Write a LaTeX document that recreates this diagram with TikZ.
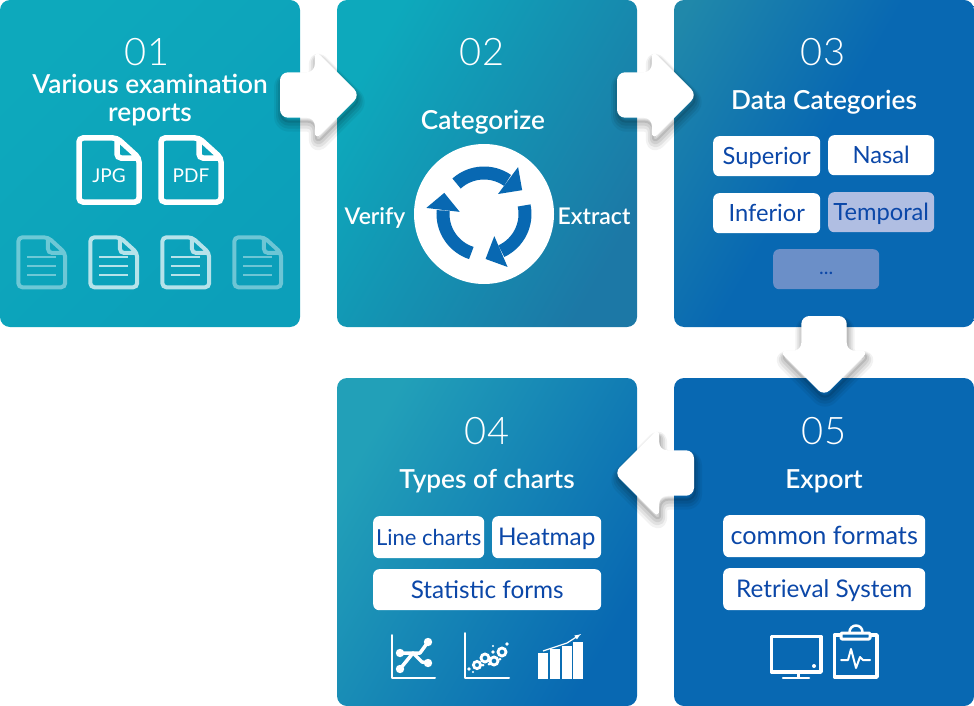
\documentclass[tikz,border=0pt]{standalone}
\usepackage{fontspec}
\setmainfont{Lato}
\newfontfamily\thinfont{Lato Light}
\newfontfamily\headfont{Lato Semibold}
\usetikzlibrary{shapes.arrows}
\definecolor{tealbox}{HTML}{0DA9BC}
\definecolor{tealdeep}{HTML}{0C9FBA}
\definecolor{tealmid}{HTML}{22A0B8}
\definecolor{midbox}{HTML}{2088AA}
\definecolor{deepbox}{HTML}{1C78A6}
\definecolor{slopebox}{HTML}{1F84AC}
\definecolor{cardtwomid}{HTML}{2190B2}
\definecolor{bluebox}{HTML}{0868B2}
\definecolor{inkblue}{HTML}{0B47A8}
\definecolor{palepill}{HTML}{B0BEE2}
\definecolor{dimpill}{HTML}{6B8FC8}
\pgfdeclareverticalshading{cardthree}{100bp}{color(0bp)=(bluebox); color(52bp)=(bluebox); color(82bp)=(midbox); color(100bp)=(midbox)}
\tikzset{
    docicon/.pic={
        \draw[rounded corners=4pt] (3,3) -- (41,3) -- (63,23) -- (63,67) -- (3,67) -- cycle
            (41,3) -- (41,23) -- (63,23);
    }
}
\begin{document}
\begin{tikzpicture}
[
    x=1pt, y=-1pt,
    card/.style={rectangle, rounded corners=10pt, anchor=north west, inner sep=0, outer sep=0,
        minimum width=300pt, minimum height=327pt},
    number/.style={text=white, inner sep=0, text height=27pt, text depth=0pt, font=\thinfont\fontsize{38}{38}\selectfont},
    heading/.style={text=white, inner sep=0, text height=18pt, text depth=0pt, font=\headfont\fontsize{26.2}{30}\selectfont},
    sidetext/.style={heading, font=\headfont\fontsize{23}{27}\selectfont},
    pill/.style={rectangle, rounded corners=6pt, fill=white, text=inkblue, inner sep=0, anchor=north west,
        text height=17pt, text depth=0pt, font=\fontsize{24.3}{28}\selectfont},
    filetype/.style={text=white, inner sep=0, font=\fontsize{19}{24}\selectfont},
    flowarrow/.style={single arrow, fill=white, rounded corners=8pt, inner sep=0, outer sep=0,
        inner ysep=22.5pt, text width=0pt, text height=0pt, text depth=0pt,
        minimum width=90pt, minimum height=80pt, single arrow head extend=22.5pt,
        single arrow tip angle=90, single arrow head indent=0pt, anchor=tip,
        preaction={draw=black, draw opacity=.05, line width=14pt, line join=round, transform canvas={xshift=1pt, yshift=-7pt}},
        preaction={draw=black, draw opacity=.07, line width=10pt, line join=round, transform canvas={xshift=1pt, yshift=-6pt}},
        preaction={draw=black, draw opacity=.08, line width=6pt, line join=round, transform canvas={xshift=1pt, yshift=-5pt}},
        preaction={draw=black, draw opacity=.1, line width=2pt, line join=round, transform canvas={xshift=1pt, yshift=-4pt}}},
    icon/.style={draw=white, line width=2pt, line cap=round, line join=round},
]
\useasboundingbox (0,0) rectangle (974,706);

\node[card, shade, left color=tealbox, right color=tealdeep, shading angle=45] (card1) at (0,0) {};
\node[card, shade, left color=tealbox, middle color=cardtwomid, right color=deepbox, shading angle=60] (card2) at (337,0) {};
\node[card, shading=cardthree, shading angle=60] (card3) at (674,0) {};
\node[card, minimum height=328pt, shade, left color=tealmid, middle color=slopebox, right color=bluebox, shading angle=60] (card4) at (337,378) {};
\node[card, minimum height=328pt, fill=bluebox] (card5) at (674,378) {};

\node[flowarrow] (arrow12) at (360,95) {};
\node[flowarrow] (arrow23) at (697,95) {};
\node[flowarrow, rotate=-90] (arrow35) at (824,396) {};
\node[flowarrow, rotate=180] (arrow54) at (614,473) {};

\node[number] (num1) at (147,52.5) {01};
\node[number] (num2) at (482,52.5) {02};
\node[number] (num3) at (823,52.5) {03};
\node[number] (num4) at (487,431) {04};
\node[number] (num5) at (824,431) {05};

\node[heading] (various) at (150,85) {Various examination};
\node[heading] (reports) at (150,113) {reports};
\node[heading] (categorize) at (483,120) {Categorize};
\node[sidetext] (verify) at (375,215.5) {Verify};
\node[sidetext] (extract) at (594,215.5) {Extract};
\node[heading] (datacat) at (824,101) {Data Categories};
\node[heading] (types) at (487,479) {Types of charts};
\node[heading] (export) at (824,479) {Export};

\pic[draw=white, line width=5.5pt] at (76,135) {docicon};
\pic[draw=white, line width=5.5pt] at (158,135) {docicon};
\node[filetype] (jpg) at (109,176) {JPG};
\node[filetype] (pdf) at (191,176) {PDF};

\foreach \x/\o in {16/.4, 88/.7, 160/.7, 232/.4}
{
    \pic[draw=white, opacity=\o, line width=4pt, scale=.78] at (\x,235) {docicon};
    \foreach \y in {22,31,40}
        \draw[white, opacity=\o, line width=2pt] (\x+11,235+\y) -- (\x+40,235+\y);
}

\node[circle, fill=white, minimum size=140pt, inner sep=0] (wheel) at (484,214) {};
\begin{scope}[shift={(wheel.center)}, x=1pt, y=1pt]
    \foreach \a in {0,-120,-240}
    {
        \draw[bluebox, line width=13pt] (\a+132:41) arc[start angle=\a+132, end angle=\a+55, radius=41];
        \fill[bluebox] (\a+54:58) -- (\a+32:45) -- (\a+55:24.4) -- cycle;
    }
\end{scope}

\node[pill, minimum width=107pt, minimum height=40pt, font=\fontsize{23.7}{28}\selectfont] (superior) at (713,136) {Superior};
\node[pill, minimum width=106pt, minimum height=40pt, font=\fontsize{23.7}{28}\selectfont] (nasal) at (828,135) {Nasal};
\node[pill, minimum width=107pt, minimum height=40pt, font=\fontsize{23.7}{28}\selectfont] (inferior) at (713,193) {Inferior};
\node[pill, minimum width=106pt, minimum height=40pt, fill=palepill, font=\fontsize{23.7}{28}\selectfont] (temporal) at (828,192) {Temporal};
\node[pill, minimum width=106pt, minimum height=40pt, fill=dimpill, text height=10pt, font=\fontsize{20}{24}\selectfont] (more) at (773,249) {...};

\node[pill, minimum width=111pt, minimum height=42pt, font=\fontsize{22}{26}\selectfont] (linecharts) at (373,516) {Line charts};
\node[pill, minimum width=109pt, minimum height=42pt] (heatmap) at (492,516) {Heatmap};
\node[pill, minimum width=228pt, minimum height=41pt] (statistic) at (373,569) {Statistic forms};
\node[pill, minimum width=202pt, minimum height=42pt, font=\fontsize{25.2}{30}\selectfont] (common) at (723,515) {common formats};
\node[pill, minimum width=202pt, minimum height=42pt] (retrieval) at (723,568) {Retrieval System};

\draw[icon] (392,635) -- (392,678) -- (435,678);
\draw[icon, line width=3.5pt] (400,669) -- (413,653) -- (420,653) -- (428,642);
\draw[icon, line width=3.5pt] (400,653) -- (413,653) -- (422,662) -- (428,663);
\foreach \x/\y in {400/669, 428/642, 400/653, 428/663}
    \fill[white] (\x,\y) circle[radius=4.2];

\draw[icon] (465,633) -- (465,678) -- (509,678);
\foreach \x/\y/\r in {477/665/3.6, 485/658/4, 494/661/4, 502/652/4}
    \draw[white, line width=2.8pt] (\x,\y) circle[radius=\r];
\foreach \x/\y/\r in {469/669/1.8, 473/672/1.2, 483/665/1.5, 489/664/1.5, 493/652/1.8, 500/659/1.5, 507/644/1.8, 493/646/1.1}
    \fill[white] (\x,\y) circle[radius=\r];

\foreach \x/\y/\w in {538/653/10, 550/649/10, 562/646/10, 573/642/10}
    \fill[white] (\x,\y) rectangle (\x+\w,679);
\draw[white, line width=1.2pt, -latex] (543,651) -- (567,643) -- (581,634);

\draw[icon, line width=3.5pt] (771.5,636.5) rectangle (821,672);
\draw[icon, line width=3pt] (798,674) -- (798,677);
\draw[icon, line width=2.5pt] (783,678) -- (809,678);
\fill[white] (814,666) circle[radius=2];

\draw[icon, line width=3.5pt] (834.5,635) rectangle (877,677);
\draw[icon, line width=2.5pt] (849.5,632) arc[start angle=180, end angle=360, radius=6.5];
\draw[icon, line width=3pt, fill=bluebox, rounded corners=1pt] (841,633) rectangle (870,639);
\draw[icon, line width=2pt] (841,660) -- (848,660) -- (851,649) -- (856,668) -- (860,657) -- (863,660) -- (870,660);
\end{tikzpicture}
\end{document}
